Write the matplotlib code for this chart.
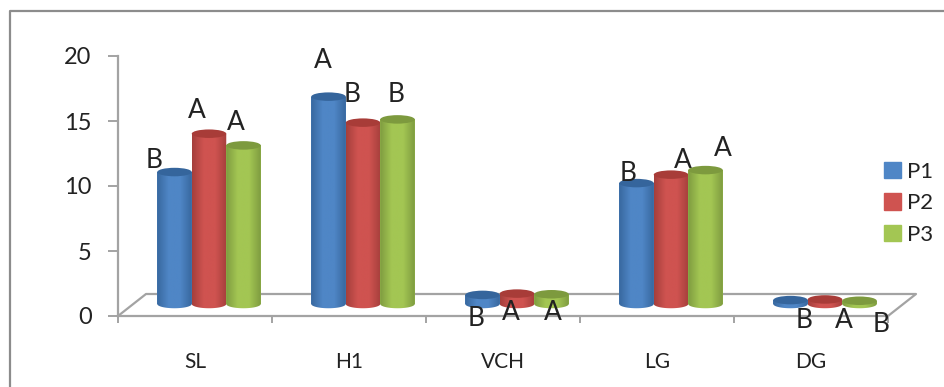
import matplotlib
matplotlib.use('Agg')
import matplotlib.pyplot as plt
import numpy as np
from matplotlib.colors import LinearSegmentedColormap
from matplotlib.patches import Ellipse, Patch, Polygon

plt.rcParams['font.family'] = ['Lato', 'DejaVu Sans']

categories = ['SL', 'H1', 'VCH', 'LG', 'DG']
series_names = ['P1', 'P2', 'P3']
p1 = [10.15, 15.95, 0.7, 9.3, 0.3]
p2 = [13.1, 13.95, 0.8, 9.95, 0.35]
p3 = [12.2, 14.2, 0.75, 10.3, 0.25]
letters_p1 = ['B', 'A', 'B', 'B', 'B']
letters_p2 = ['A', 'B', 'A', 'A', 'A']
letters_p3 = ['A', 'B', 'A', 'A', 'B']

W, H = 944, 387
GREY = '#a3a3a3'
TEXT = '#222222'

# edge, highlight and top colours of the cylinders
shades = {
	'P1': ('#38689f', '#4f86c6', '#35659c'),
	'P2': ('#a53f3c', '#cf5350', '#a83c38'),
	'P3': ('#7f9c40', '#a3c653', '#7d9a3e'),
}

# letter centres in pixels, same order as the letter lists
letter_xy = {
	'P1': [(154, 161), (323, 60), (476, 319), (628, 173), (804, 321)],
	'P2': [(197, 110), (352, 94), (511, 313), (683, 161), (844, 320)],
	'P3': [(236, 123), (396, 94), (553, 313), (723, 149), (881, 325)],
}

fig = plt.figure(figsize=(W / 100, H / 100), dpi=100)
ax = fig.add_axes([118 / W, 1 - 316 / H, 770 / W, 260 / H])
ax.set_xlim(0, 5)
ax.set_ylim(0, 20)

unit_x = 154.0
unit_y = 13.0

# outer frame, only left and top show
fig.add_artist(plt.Line2D([10 / W, 10 / W, 1], [0, 1 - 11 / H, 1 - 11 / H], color='#8c8c8c', lw=1.6))

# floor
dx = 28 / unit_x
dy = 22 / unit_y
ax.plot([0, dx, 5 + dx, 5], [0, dy, dy, 0], color=GREY, lw=1.6, clip_on=False, zorder=1)

for s in ['top', 'right']:
	ax.spines[s].set_visible(False)
for s in ['left', 'bottom']:
	ax.spines[s].set_color(GREY)
	ax.spines[s].set_linewidth(1.6)

ax.set_yticks([0, 5, 10, 15, 20])
ax.set_xticks(range(6))
ax.set_xticklabels([])
ax.set_xticks(np.arange(5) + 0.5, minor=True)
ax.set_xticklabels(categories, minor=True)
ax.tick_params(axis='x', which='major', length=5, width=1.4, color=GREY)
ax.tick_params(axis='x', which='minor', length=0, pad=26, labelsize=15, labelcolor=TEXT)
ax.tick_params(axis='y', length=7, width=1.4, color=GREY, labelsize=17, labelcolor=TEXT, pad=12)

bar_w = 34.5 / unit_x
shift = 14 / unit_x
base = 12 / unit_y
ell_h = 8.5 / unit_y

all_values = [p1, p2, p3]
for c in range(len(categories)):
	for s, name in enumerate(series_names):
		value = all_values[s][c]
		xc = c + 0.5 + shift + (s - 1) * bar_w
		edge, light, top = shades[name]
		cmap = LinearSegmentedColormap.from_list(name, [edge, light, light, edge], N=64)

		bars = ax.bar(xc, value, bar_w, bottom=base, color=light, zorder=3 + c + s * 0.1, clip_on=False)
		z = bars[0].get_zorder()

		# side of the cylinder: rectangle with the rounded lower edge
		t = np.linspace(np.pi, 2 * np.pi, 40)
		low = np.column_stack([xc + bar_w / 2 * np.cos(t), base + ell_h / 2 * np.sin(t)])
		body = np.vstack([low, [xc + bar_w / 2, base + value], [xc - bar_w / 2, base + value]])
		clip = Polygon(body, closed=True, transform=ax.transData, fc='none', ec='none')
		ax.add_patch(clip)
		img = ax.imshow(np.linspace(0, 1, 64).reshape(1, -1), cmap=cmap, aspect='auto', zorder=z + 0.01,
			extent=[xc - bar_w / 2, xc + bar_w / 2, base - ell_h, base + value], clip_on=True)
		img.set_clip_path(clip)

		ax.add_patch(Ellipse((xc, base + value), bar_w, ell_h, fc=top, ec='none', zorder=z + 0.02, clip_on=False))

ax.set_xlim(0, 5)
ax.set_ylim(0, 20)

# significance letters
all_letters = {'P1': letters_p1, 'P2': letters_p2, 'P3': letters_p3}
for name in series_names:
	for letter, (px, py) in zip(all_letters[name], letter_xy[name]):
		fig.text(px / W, 1 - py / H, letter, fontsize=19, color=TEXT, ha='center', va='center', zorder=20)

handles = [Patch(color=shades[n][1]) for n in series_names]
fig.legend(handles, series_names, loc='upper left', bbox_to_anchor=(864 / W, 1 - 142 / H), frameon=False,
	fontsize=16, labelcolor=TEXT, handlelength=0.75, handleheight=0.75, handletextpad=0.3,
	labelspacing=0.51, borderpad=0.4)

fig.savefig('out.png', dpi=100)
